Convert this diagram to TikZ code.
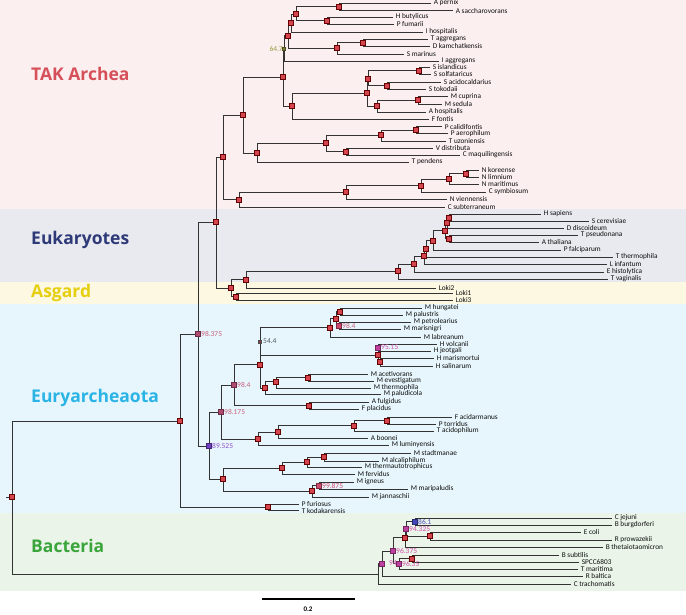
\documentclass[tikz,border=0pt]{standalone}
\usepackage{fontspec}
\setmainfont{Carlito}
\newfontfamily\cladefont{Open Sans}
\definecolor{takband}{HTML}{FBEFF0}
\definecolor{eukband}{HTML}{E9EAF0}
\definecolor{asgband}{HTML}{FCF8E1}
\definecolor{euryband}{HTML}{E7F6FC}
\definecolor{bacband}{HTML}{EAF4E9}
\definecolor{takred}{HTML}{D6505A}
\definecolor{euknavy}{HTML}{2E3A78}
\definecolor{asgyellow}{HTML}{E6CF10}
\definecolor{eurycyan}{HTML}{2AB4E6}
\definecolor{bacgreen}{HTML}{3AA53A}
\definecolor{sqred}{HTML}{D4454F}
\definecolor{sqmauve}{HTML}{B04A6E}
\definecolor{sqpink}{HTML}{D04A70}
\definecolor{sqmagenta}{HTML}{C040A0}
\definecolor{sqpurple}{HTML}{7040C0}
\definecolor{sqblue}{HTML}{4448B8}
\definecolor{labpink}{HTML}{C8607E}
\definecolor{labmagenta}{HTML}{D050A8}
\definecolor{labpurple}{HTML}{9050D0}
\definecolor{labblue}{HTML}{5050C0}
\definecolor{labolive}{HTML}{9A9A40}
\definecolor{labslate}{HTML}{4E5A66}
\tikzset{
  branch/.style={draw=black!80, line width=0.95pt},
  leaf/.style={anchor=west, inner sep=0.6pt, xshift=2pt, text=black!95,
    font=\fontsize{7.3}{7.3}\selectfont},
  sq/.style={draw=red!40!black, fill=sqred, minimum size=4.8pt, inner sep=0pt, line width=0.4pt},
  tinysq/.style={minimum size=2.8pt, inner sep=0pt},
  bootlab/.style={anchor=west, inner sep=0pt, xshift=3pt, font=\fontsize{7.5}{8}\selectfont},
  cladelab/.style={anchor=west, inner sep=0pt, font=\cladefont\bfseries\fontsize{17.5}{18}\selectfont}
}
\begin{document}
\begin{tikzpicture}[x=1pt, y=-1pt]
  \useasboundingbox (0,0) rectangle (686,614);
  % coloured bands
  \fill[takband] (0,0) rectangle (686,208.5);
  \fill[eukband] (0,208.5) rectangle (686,282);
  \fill[asgband] (0,282) rectangle (686,303.5);
  \fill[euryband] (0,303.5) rectangle (686,513);
  \fill[bacband] (0,513) rectangle (686,590.5);
  \node[cladelab, text=takred] (taklab) at (31,74) {TAK Archea};
  \node[cladelab, text=euknavy] (euklab) at (31,240) {Eukaryotes};
  \node[cladelab, text=asgyellow] (asglab) at (31,293) {Asgard};
  \node[cladelab, text=eurycyan] (eurylab) at (31,398) {Euryarcheaota};
  \node[cladelab, text=bacgreen] (baclab) at (31,546) {Bacteria};
  % internal nodes
  \foreach \n/\nx/\ny in {root/12/497, arch/180/421, b98/198/334, c216/216/222, d223/223/157,
      e243/243/115, f283/283/77, n647/284/48.5, i288/288/35.5, k291/291/23, l296/296/14,
      m339/339/6.75, n327/327/20.5, j337/337/48, o363/363/42.5, h292/292/106, p367/367/93,
      q368/368/79, s419/419/70.5, s387/387/85.5, r377/377/106, mm418/418/100, g257/257/153,
      t326/326/143, u381/381/135, w416/416/130, v346/346/151.5, thau/239/199.5, x346/346/192,
      y421/421/185.5, z449/449/179, nk466/466/173.5, ae/231/288, ea246/246/279.5,
      lk236/236/296.5, euk398/398/271, e414/414/264, e424/424/256, e426/426/248.5,
      e433/433/240.5, e445/445/230.5, e447/447/222.5, e449/449/217.5, e449b/449/238.5,
      n895/209/446, n98175/221/412, n984a/234/385, n309/309/405.5, n260/260/364.5,
      n544/260/341.5, n330/330/327.5, n336/336/318.5, n340/340/311.5, n984b/339/325.5,
      n378/378/355, n9515/378/347.5, n380/380/362, n265/265/388, n276/276/381.5,
      n308/308/377.5, n258/258/439, n278/278/432, n354/354/425.5, n387/387/420.5,
      n223/223/479, n282/282/468, n307/307/462, n324/324/457, n312/312/491,
      n99875/319/485.5, pyro/268/507, bact/378/574, b382/382/563.5, b96375/393/551,
      b405/405/537.5, b94325/406/529, b861/415/521.5, b430/430/536, b94/399/563.5,
      b412/412/558.5}
    \coordinate (\n) at (\nx,\ny);
  % leaves: tip and name
  \foreach \nm/\tx/\ty/\lab in {apern/431/3/A pernix, asacc/453/10.5/A saccharovorans,
      hbuty/393/17/H butylicus, pfuma/394/24/P fumarii, ihosp/423/32/I hospitalis,
      tagg/428/39/T aggregans, dkam/430/46/D kamchatkensis, smar/404/54/S marinus,
      iagg/439/61/I aggregans, sisl/430/67/S islandicus, ssol/431/74/S solfataricus,
      saci/441/82/S acidocaldarius, stok/426/89/S tokodaii, mcup/448/96.5/M cuprina,
      msed/442/104/M sedula, ahos/426/112/A hospitalis, ffon/429/119/F fontis,
      pcal/442/126.5/P calidifontis, paer/448/133.5/P aerophilum, tuzo/446/141/T uzoniensis,
      vdis/433/148/V distributa, cmaq/460/155/C maquilingensis, tpen/409/162/T pendens,
      nkor/479/170/N koreense, nlim/479/177/N limnium, nmar/479/184/N maritimus,
      csym/486/192/C symbiosum, nvie/447/199/N viennensis, csub/445/207/C subterraneum,
      hsap/541/214/H sapiens, scer/589/221/S cerevisiae, ddis/564/228/D discoideum,
      tpse/578/235/T pseudonana, atha/539/242/A thaliana, pfal/561/250/P falciparum,
      tthe/613/257/T thermophila, linf/607/264/L infantum, ehis/604/272/E histolytica,
      tvag/608/279/T vaginalis, lok2/436/288/Loki2, lok1/453/293/Loki1, lok3/453/300/Loki3,
      mhun/422/308/M hungatei, mpal/403/315/M palustris, mpet/411/322/M petrolearius,
      mmar/401/329/M marisnigri, mlab/421/337/M labreanum, hvol/437/344/H volcanii,
      hjeo/431/351/H jeotgali, hmar/434/358/H marismortui, hsal/433/366/H salinarum,
      mace/368/374/M acetivorans, meve/374/381/M evestigatum, mthe/371/388/M thermophila,
      mpalu/381/394/M paludicola, aful/369/402/A fulgidus, fpla/359/409/F placidus,
      faci/452/417/F acidarmanus, ptor/436/424/P torridus, taci/434/431/T acidophilum,
      aboo/368/438/A boonei, mlum/389/445/M luminyensis, msta/411/453/M stadtmanae,
      malc/379/461/M alcaliphilum, mthau/362/467/M thermautotrophicus, mfer/355/474/M fervidus,
      mign/354/482/M igneus, mmari/408/489/M maripaludis, mjan/369/497/M jannaschii,
      pfur/299/504/P furiosus, tkod/299/510.5/T kodakarensis,
      cjej/612/518/C jejuni, bbur/612/525/B burgdorferi, ecol/581/532/E coli,
      rpro/612/540/R prowazekii, bthe/603/547/B thetaiotaomicron, bsub/559/555/B subtilis,
      spcc/579/562/SPCC6803, tmar/578/569/T maritima, rbal/583/576/R baltica,
      ctra/571/584/C trachomatis}
  {
    \coordinate (\nm) at (\tx,\ty);
    \node[leaf] (lab-\nm) at (\nm) {\lab};
  }
  % branches
  \coordinate (rootstem) at (6,497);
  \draw[branch] (rootstem) -- (root);
  \foreach \p/\c in {root/arch, root/bact, arch/b98, arch/pyro, b98/c216, b98/n895,
      c216/d223, c216/ae, d223/e243, d223/thau, e243/f283, e243/g257, f283/n647, f283/h292,
      n647/i288, n647/iagg, i288/k291, i288/j337, k291/l296, k291/ihosp, l296/m339, l296/n327,
      m339/apern, m339/asacc, n327/hbuty, n327/pfuma, j337/o363, j337/smar, o363/tagg,
      o363/dkam, h292/p367, h292/ffon, p367/q368, p367/r377, q368/s419, q368/s387,
      s419/sisl, s419/ssol, s387/saci, s387/stok, r377/mm418, r377/ahos, mm418/mcup,
      mm418/msed, g257/t326, g257/tpen, t326/u381, t326/v346, u381/w416, u381/tuzo,
      w416/pcal, w416/paer, v346/vdis, v346/cmaq, thau/x346, thau/csub, x346/y421,
      x346/nvie, y421/z449, y421/csym, z449/nk466, z449/nmar, nk466/nkor, nk466/nlim,
      ae/ea246, ae/lk236, ea246/euk398, ea246/lok2, lk236/lok1, lk236/lok3,
      euk398/e414, euk398/tvag, e414/e424, e414/ehis, e424/e426, e424/linf, e426/e433,
      e426/tthe, e433/e445, e433/pfal, e445/e447, e445/e449b, e447/e449, e447/ddis,
      e449/hsap, e449/scer, e449b/tpse, e449b/atha,
      n895/n98175, n895/n223, n98175/n984a, n98175/n258, n984a/n260, n984a/n309,
      n309/aful, n309/fpla, n260/n544, n260/n265, n544/n330, n544/n378, n330/n336,
      n330/mlab, n336/n340, n336/n984b, n340/mhun, n340/mpal, n984b/mpet, n984b/mmar,
      n378/n9515, n378/n380, n9515/hvol, n9515/hjeo, n380/hmar, n380/hsal, n265/n276,
      n265/mpalu, n276/n308, n276/mthe, n308/mace, n308/meve, n258/n278, n258/mlum,
      n278/n354, n278/aboo, n354/n387, n354/taci, n387/faci, n387/ptor, n223/n282,
      n223/n312, n282/n307, n282/mfer, n307/n324, n307/mthau, n324/msta, n324/malc,
      n312/n99875, n312/mjan, n99875/mign, n99875/mmari, pyro/pfur, pyro/tkod,
      bact/b382, bact/ctra, b382/b96375, b382/rbal, b96375/b405, b96375/b94,
      b405/b94325, b405/bthe, b94325/b861, b94325/b430, b861/cjej, b861/bbur,
      b430/ecol, b430/rpro, b94/b412, b94/tmar, b412/bsub, b412/spcc}
    \draw[branch] (\p) |- (\c);
  % support values
  \node[bootlab, anchor=east, xshift=-4pt, text=labolive] (bl-n647) at (n647) {64.7};
  \node[bootlab, text=labpink] (bl-b98) at (b98) {98.375};
  \node[bootlab, text=labslate] (bl-n544) at (n544) {54.4};
  \node[bootlab, text=labpink] (bl-n984b) at (n984b) {98.4};
  \node[bootlab, text=labmagenta] (bl-n9515) at (n9515) {95.15};
  \node[bootlab, text=labpink] (bl-n984a) at (n984a) {98.4};
  \node[bootlab, text=labpink] (bl-n98175) at (n98175) {98.175};
  \node[bootlab, text=labpurple] (bl-n895) at (n895) {89.525};
  \node[bootlab, text=sqpink] (bl-n99875) at (n99875) {99.875};
  \node[bootlab, text=labblue] (bl-b861) at (b861) {86.1};
  \node[bootlab, text=labmagenta] (bl-b94325) at (b94325) {94.325};
  \node[bootlab, text=labmagenta] (bl-b96375) at (b96375) {96.375};
  \node[bootlab, text=labmagenta, xshift=4pt] (bl-b382) at (b382) {94};
  \node[bootlab, text=labmagenta] (bl-b94) at (b94) {96.35};
  % node squares
  \foreach \n in {root, arch, pyro, c216, d223, ae, e243, thau, f283, h292, i288, k291, l296,
      m339, n327, j337, o363, p367, q368, s419, s387, r377, mm418, g257, t326, u381, w416,
      v346, x346, y421, z449, nk466, ea246, lk236, euk398, e414, e424, e426, e433, e445,
      e447, e449, e449b, n260, n309, n330, n336, n340, n378, n380, n265, n276, n308, n258,
      n278, n354, n387, n223, n282, n307, n324, n312, b405, b430, b412}
    \node[sq] (s-\n) at (\n) {};
  \foreach \n/\c in {b98/sqmauve, n984a/sqmauve, n98175/sqmauve, n984b/sqpink,
      n99875/sqpink, n895/sqpurple, n9515/sqmagenta, b861/sqblue, b94325/sqmagenta,
      b96375/sqmagenta, b94/sqmagenta, b382/sqmagenta}
    \node[sq, fill=\c, draw=\c!60!black] (s-\n) at (\n) {};
  \node[sq, tinysq, fill=labolive!80!black, draw=labolive!50!black] (s-n647) at (n647) {};
  \node[sq, tinysq, fill=labslate!70!red, draw=black!70] (s-n544) at (n544) {};
  % scale bar
  \coordinate (barl) at (262,599);
  \coordinate (barr) at (355,599);
  \draw[line width=1.3pt] (barl) -- (barr);
  \node[font=\fontsize{7}{7}\selectfont\bfseries, inner sep=0pt] (barlab) at (308,609) {0.2};
\end{tikzpicture}
\end{document}
